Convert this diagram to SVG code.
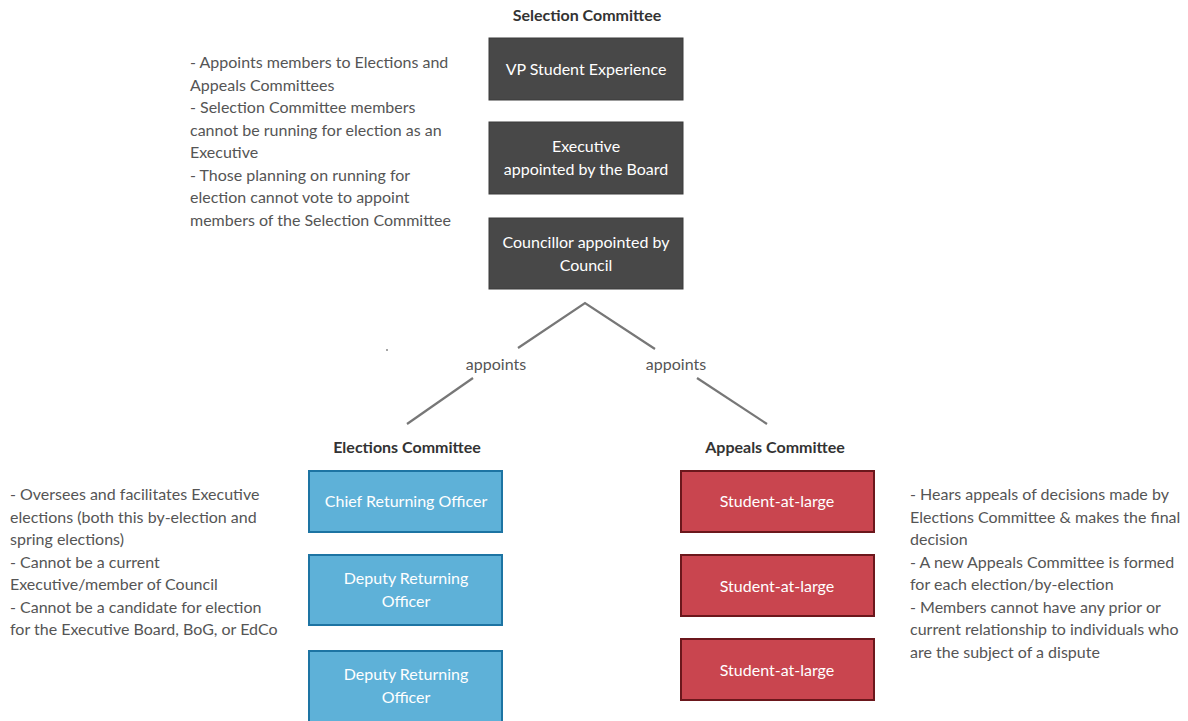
<svg xmlns="http://www.w3.org/2000/svg" width="1188" height="721" viewBox="0 0 1188 721">
<style>
text{font-family:Lato,"Open Sans","Liberation Sans",sans-serif;font-size:16px}
.h{font-weight:bold;fill:#333;text-anchor:middle}
.n{fill:#555}
.w{fill:#fff;text-anchor:middle}
.dark{fill:#484848;stroke:#3a3a3a;stroke-width:1}
.blue{fill:#5eb1d8;stroke:#1d74a3;stroke-width:2}
.red{fill:#c9454f;stroke:#6b171c;stroke-width:2}
.c{stroke:#777;stroke-width:2.2;fill:none}
.lbl{fill:#555;text-anchor:middle}
</style>
<rect width="1188" height="721" fill="#fff"/>
<text class="h" x="587" y="21">Selection Committee</text>
<g id="vp"><rect class="dark" x="489" y="38" width="194" height="62"/><text class="w" x="586" y="75">VP Student Experience</text></g>
<g id="exec"><rect class="dark" x="489" y="122" width="194" height="72"/><text class="w" x="586" y="152">Executive</text><text class="w" x="586" y="175">appointed by the Board</text></g>
<g id="councillor"><rect class="dark" x="489" y="218" width="194" height="71"/><text class="w" x="586" y="248">Councillor appointed by</text><text class="w" x="586" y="271">Council</text></g>
<g id="selection-notes"><text class="n" x="190" y="68">- Appoints members to Elections and</text><text class="n" x="190" y="91">Appeals Committees</text><text class="n" x="190" y="113">- Selection Committee members</text><text class="n" x="190" y="136">cannot be running for election as an</text><text class="n" x="190" y="158">Executive</text><text class="n" x="190" y="181">- Those planning on running for</text><text class="n" x="190" y="203">election cannot vote to appoint</text><text class="n" x="190" y="226">members of the Selection Committee</text></g>
<g id="connectors">
<polyline class="c" points="518,348 585,303 655,349"/>
<line class="c" x1="473" y1="378" x2="407" y2="424"/>
<line class="c" x1="697" y1="378" x2="767" y2="424"/>
<text class="lbl" x="496" y="370">appoints</text>
<text class="lbl" x="676" y="370">appoints</text>
</g>
<circle cx="387" cy="350" r="1" fill="#888"/>
<text class="h" x="407" y="453">Elections Committee</text>
<text class="h" x="775" y="453">Appeals Committee</text>
<g id="cro"><rect class="blue" x="309" y="471" width="193" height="61"/><text class="w" x="406" y="507">Chief Returning Officer</text></g>
<g id="dro1"><rect class="blue" x="309" y="555" width="193" height="70"/><text class="w" x="406" y="584">Deputy Returning</text><text class="w" x="406" y="607">Officer</text></g>
<g id="dro2"><rect class="blue" x="309" y="651" width="193" height="72"/><text class="w" x="406" y="680">Deputy Returning</text><text class="w" x="406" y="703">Officer</text></g>
<g id="sal1"><rect class="red" x="681" y="471" width="193" height="61"/><text class="w" x="777" y="507">Student-at-large</text></g>
<g id="sal2"><rect class="red" x="681" y="555" width="193" height="61"/><text class="w" x="777" y="592">Student-at-large</text></g>
<g id="sal3"><rect class="red" x="681" y="639" width="193" height="61"/><text class="w" x="777" y="676">Student-at-large</text></g>
<g id="elections-notes"><text class="n" x="10" y="500">- Oversees and facilitates Executive</text><text class="n" x="10" y="523">elections (both this by-election and</text><text class="n" x="10" y="545">spring elections)</text><text class="n" x="10" y="568">- Cannot be a current</text><text class="n" x="10" y="590">Executive/member of Council</text><text class="n" x="10" y="613">- Cannot be a candidate for election</text><text class="n" x="10" y="635">for the Executive Board, BoG, or EdCo</text></g>
<g id="appeals-notes"><text class="n" x="910" y="500">- Hears appeals of decisions made by</text><text class="n" x="910" y="523">Elections Committee &amp; makes the final</text><text class="n" x="910" y="545">decision</text><text class="n" x="910" y="568">- A new Appeals Committee is formed</text><text class="n" x="910" y="590">for each election/by-election</text><text class="n" x="910" y="613">- Members cannot have any prior or</text><text class="n" x="910" y="635">current relationship to individuals who</text><text class="n" x="910" y="658">are the subject of a dispute</text></g>
</svg>
